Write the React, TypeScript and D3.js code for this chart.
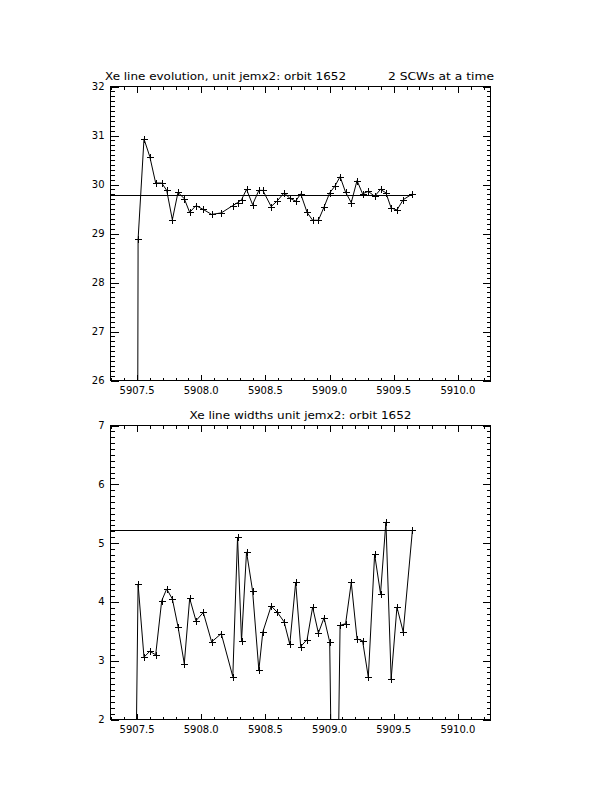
import React from "react";
import * as d3 from "d3";

const times = [5907.485, 5907.508, 5907.554, 5907.599, 5907.645, 5907.692, 5907.731, 5907.775, 5907.819, 5907.868, 5907.910, 5907.959, 5908.016, 5908.081, 5908.156, 5908.246, 5908.283, 5908.314, 5908.353, 5908.400, 5908.449, 5908.480, 5908.545, 5908.594, 5908.646, 5908.690, 5908.736, 5908.775, 5908.825, 5908.868, 5908.913, 5908.957, 5909.001, 5909.040, 5909.082, 5909.125, 5909.169, 5909.214, 5909.257, 5909.302, 5909.351, 5909.397, 5909.439, 5909.480, 5909.525, 5909.574, 5909.646];

const lineEnergy = [0, 28.88, 30.93, 30.57, 30.03, 30.03, 29.88, 29.28, 29.84, 29.71, 29.43, 29.57, 29.49, 29.39, 29.42, 29.57, 29.63, 29.69, 29.90, 29.59, 29.88, 29.88, 29.55, 29.67, 29.83, 29.72, 29.66, 29.81, 29.43, 29.27, 29.27, 29.54, 29.83, 29.96, 30.16, 29.84, 29.63, 30.08, 29.81, 29.86, 29.76, 29.90, 29.83, 29.52, 29.48, 29.69, 29.81];

const lineWidth = [0, 4.30, 3.06, 3.16, 3.10, 4.02, 4.22, 4.05, 3.58, 2.95, 4.06, 3.68, 3.82, 3.32, 3.46, 2.73, 5.10, 3.34, 4.85, 4.19, 2.84, 3.49, 3.93, 3.82, 3.66, 3.28, 4.33, 3.24, 3.36, 3.91, 3.47, 3.73, 3.32, -3, 3.60, 3.63, 4.33, 3.37, 3.34, 2.72, 4.81, 4.14, 5.36, 2.69, 3.91, 3.49, 5.23];

const energyRef = 29.79;
const widthRef = 5.23;

const xDomain = [5907.293, 5910.254];
const xTickLabels = ["5907.5", "5908.0", "5908.5", "5909.0", "5909.5", "5910.0"];
const topYTickLabels = ["26", "27", "28", "29", "30", "31", "32"];
const botYTickLabels = ["2", "3", "4", "5", "6", "7"];

const topTitleLeft = "Xe line evolution, unit jemx2: orbit 1652";
const topTitleRight = "2 SCWs at a time";
const botTitle = "Xe line widths unit jemx2: orbit 1652";

const PL = 110.5, PR = 490.5;
const FONT = "DejaVu Sans";

function Panel({ top, height, yDomain, yLabels, values, refVal, id }) {
  const x = d3.scaleLinear().domain(xDomain).range([PL, PR]);
  const y = d3.scaleLinear().domain(yDomain).range([top + height, top]);
  const bottom = top + height;
  const xMajLen = 6, xMinLen = 3, yMajLen = 8, yMinLen = 4;

  const xMajor = xTickLabels.map(Number);
  const xMinor = d3.range(Math.ceil(xDomain[0] * 10), Math.floor(xDomain[1] * 10) + 1)
    .map((v) => v / 10)
    .filter((v) => !xMajor.some((m) => Math.abs(m - v) < 1e-6));
  const yMajor = yLabels.map(Number);
  const yMinor = d3.range(Math.round(yDomain[0] * 10), Math.round(yDomain[1] * 10) + 1)
    .map((v) => v / 10)
    .filter((v) => !yMajor.some((m) => Math.abs(m - v) < 1e-6));

  const pts = times.map((t, i) => [t, values[i]]);
  const line = d3.line().x((d) => x(d[0])).y((d) => y(d[1]));
  const lastT = times[times.length - 1];
  const rx = (v) => Math.round(x(v)) + 0.5;
  const ry = (v) => Math.round(y(v)) + 0.5;

  return (
    <g>
      <defs>
        <clipPath id={id}>
          <rect x={PL} y={top} width={PR - PL} height={height} />
        </clipPath>
      </defs>
      <rect x={PL} y={top} width={PR - PL} height={height} fill="none" stroke="#000" strokeWidth={1} shapeRendering="crispEdges" />
      <g stroke="#000" strokeWidth={1} shapeRendering="crispEdges">
        {xMajor.map((v) => (
          <g key={"xM" + v}>
            <line x1={rx(v)} x2={rx(v)} y1={bottom} y2={bottom - xMajLen} />
            <line x1={rx(v)} x2={rx(v)} y1={top} y2={top + xMajLen} />
          </g>
        ))}
        {xMinor.map((v) => (
          <g key={"xm" + v}>
            <line x1={rx(v)} x2={rx(v)} y1={bottom} y2={bottom - xMinLen} />
            <line x1={rx(v)} x2={rx(v)} y1={top} y2={top + xMinLen} />
          </g>
        ))}
        {yMajor.map((v) => (
          <g key={"yM" + v}>
            <line x1={PL} x2={PL + yMajLen} y1={ry(v)} y2={ry(v)} />
            <line x1={PR} x2={PR - yMajLen} y1={ry(v)} y2={ry(v)} />
          </g>
        ))}
        {yMinor.map((v) => (
          <g key={"ym" + v}>
            <line x1={PL} x2={PL + yMinLen} y1={ry(v)} y2={ry(v)} />
            <line x1={PR} x2={PR - yMinLen} y1={ry(v)} y2={ry(v)} />
          </g>
        ))}
      </g>
      <g fontFamily={FONT} fontSize={10} fill="#000">
        {xTickLabels.map((s) => (
          <text key={"xl" + s} x={x(Number(s))} y={bottom + 13.5} textAnchor="middle">{s}</text>
        ))}
        {yLabels.map((s) => (
          <text key={"yl" + s} x={PL - 6} y={y(Number(s)) + 3.5} textAnchor="end">{s}</text>
        ))}
      </g>
      <g clipPath={`url(#${id})`}>
        <line x1={PL} x2={x(lastT)} y1={ry(refVal)} y2={ry(refVal)} stroke="#000" strokeWidth={1} shapeRendering="crispEdges" />
        <path d={line(pts)} fill="none" stroke="#000" strokeWidth={1} />
        <g stroke="#000" strokeWidth={1} shapeRendering="crispEdges">
          {pts.map((d, i) => {
            const cx = Math.round(x(d[0])) + 0.5;
            const cy = Math.round(y(d[1])) + 0.5;
            return (
              <g key={"p" + i}>
                <line x1={cx - 3.5} x2={cx + 3.5} y1={cy} y2={cy} />
                <line x1={cx} x2={cx} y1={cy - 3.5} y2={cy + 3.5} />
              </g>
            );
          })}
        </g>
      </g>
    </g>
  );
}

export default function App() {
  return (
    <svg width={612} height={792} style={{ position: "absolute", left: 0, top: 0, background: "#fff" }}>
      <rect x={0} y={0} width={612} height={792} fill="#fff" />
      <g fontFamily={FONT} fontSize={10.5} fill="#000">
        <text x={105} y={80} textLength={241} lengthAdjust="spacingAndGlyphs">{topTitleLeft}</text>
        <text x={494} y={80} textAnchor="end" textLength={106} lengthAdjust="spacingAndGlyphs">{topTitleRight}</text>
        <text x={300.5} y={419} textAnchor="middle" textLength={222} lengthAdjust="spacingAndGlyphs">{botTitle}</text>
      </g>
      <Panel id="clipTop" top={86.5} height={294} yDomain={[26, 32]} yLabels={topYTickLabels} values={lineEnergy} refVal={energyRef} />
      <Panel id="clipBot" top={425.5} height={294} yDomain={[2, 7]} yLabels={botYTickLabels} values={lineWidth} refVal={widthRef} />
    </svg>
  );
}
